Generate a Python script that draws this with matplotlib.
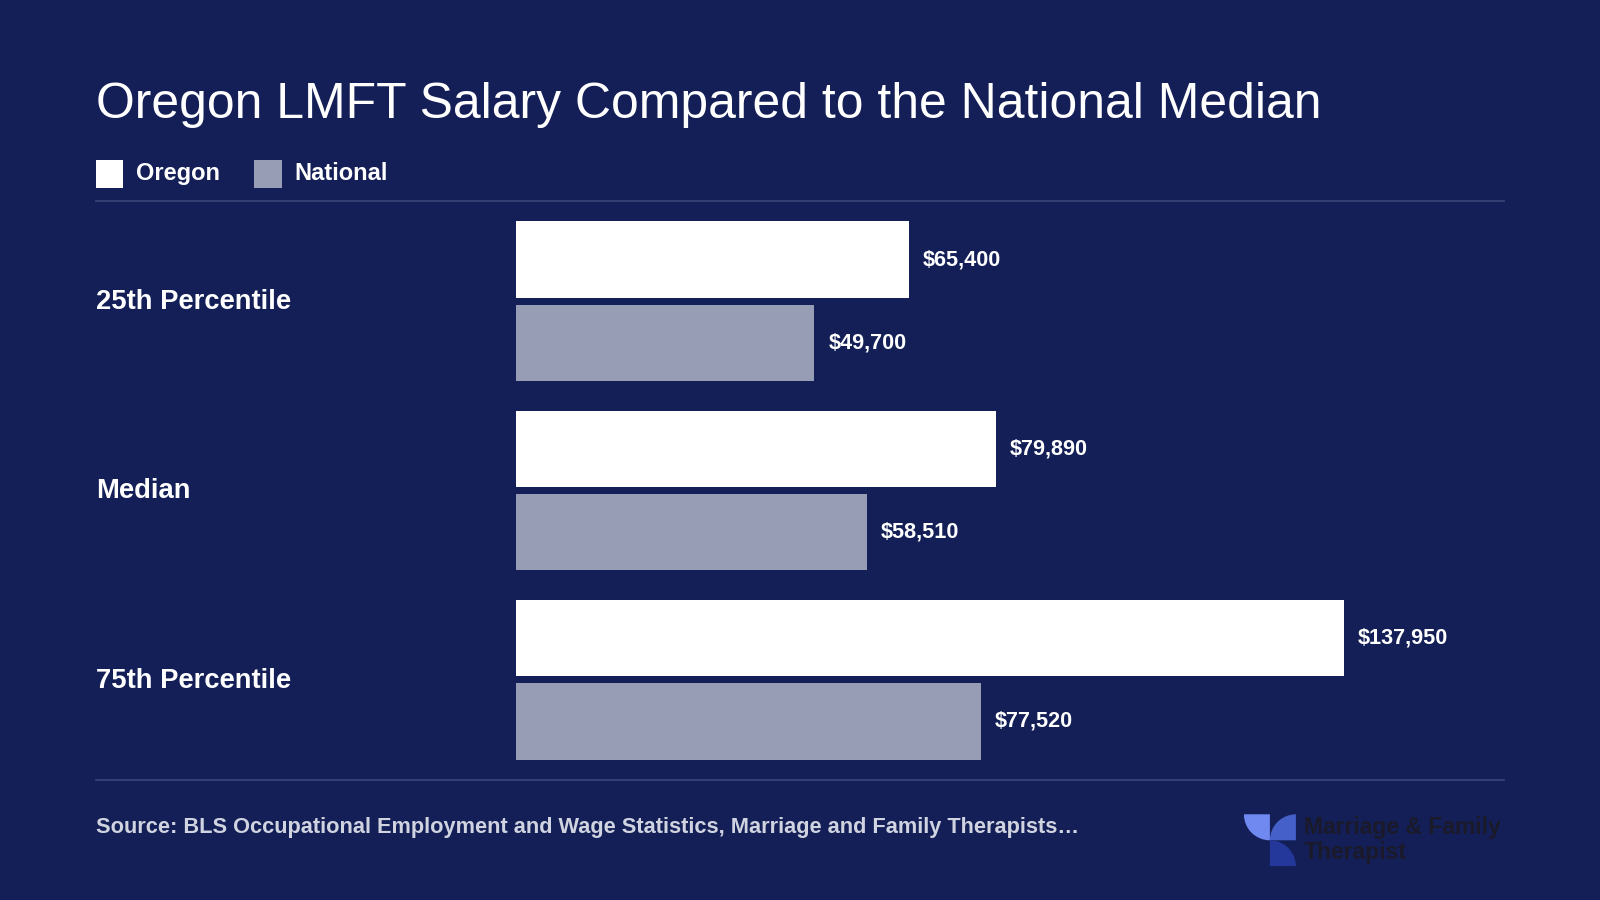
import matplotlib
matplotlib.use("Agg")
import matplotlib.pyplot as plt
from matplotlib.patches import Rectangle, Wedge

categories = ["25th Percentile", "Median", "75th Percentile"]
oregon = [65400, 79890, 137950]
national = [49700, 58510, 77520]

BG = "#131f56"
NAT = "#989db6"
W, H = 1568, 882
plt.rcParams['font.family'] = ['Liberation Sans', 'DejaVu Sans']

fig = plt.figure(figsize=(16, 9), dpi=100, facecolor=BG)
def fx(x): return x / W
def fy(y): return 1 - y / H

fig.text(fx(94), fy(103), "Oregon LMFT Salary Compared to the National Median",
         color="white", fontsize=35.9, va="center", ha="left")
# legend
for x0, lab, col in [(94, "Oregon", "white"), (249, "National", NAT)]:
    fig.patches.append(Rectangle((fx(x0), fy(184)), fx(27), 27 / H, transform=fig.transFigure,
                                 facecolor=col, edgecolor="none"))
    fig.text(fx(x0 + 39), fy(170), lab, color="white", fontsize=17, fontweight="bold", va="center")
for y in (197, 764):
    fig.add_artist(plt.Line2D([fx(94), fx(1474)], [fy(y), fy(y)], color="#3a4578", lw=1.2))

ax = fig.add_axes([fx(506), fy(764), fx(1474 - 506), (764 - 197) / H])
ax.set_facecolor("none")
xmax = 137950 * 968 / 811
ax.set_xlim(0, xmax)
ax.set_ylim(2.527, -0.53)
off, h = 0.22, 0.404
for i, (o, n) in enumerate(zip(oregon, national)):
    ax.barh(i - off, o, height=h, color="white")
    ax.barh(i + off, n, height=h, color=NAT)
    ax.text(o + xmax * 0.014, i - off, f"${o:,}", color="white", fontsize=15.6, fontweight="bold", va="center")
    ax.text(n + xmax * 0.014, i + off, f"${n:,}", color="white", fontsize=15.6, fontweight="bold", va="center")
    fig.text(fx(94), fy(296 + 185.5 * i), categories[i], color="white", fontsize=19.7,
             fontweight="bold", va="center")
ax.axis("off")

fig.text(fx(94), fy(811), "Source: BLS Occupational Employment and Wage Statistics, Marriage and Family Therapists\u2026",
         color="#d0d3e0", fontsize=15.7, fontweight="bold", va="center")
# logo
lax = fig.add_axes([fx(1219), fy(849), fx(51), 51 / H])
lax.set_xlim(0, 2); lax.set_ylim(0, 2); lax.axis("off")
lax.add_patch(Wedge((1, 2), 1, 180, 270, facecolor="#7089f0"))
lax.add_patch(Wedge((2, 1), 1, 90, 180, facecolor="#4560c8"))
lax.add_patch(Wedge((1, 0), 1, 0, 90, facecolor="#24379a"))
fig.text(fx(1278), fy(811), "Marriage & Family", color="#1a1a2a", fontsize=16.5, fontweight="bold", va="center")
fig.text(fx(1278), fy(835), "Therapist", color="#1a1a2a", fontsize=16.5, fontweight="bold", va="center")
fig.savefig("out.png", facecolor=BG)
